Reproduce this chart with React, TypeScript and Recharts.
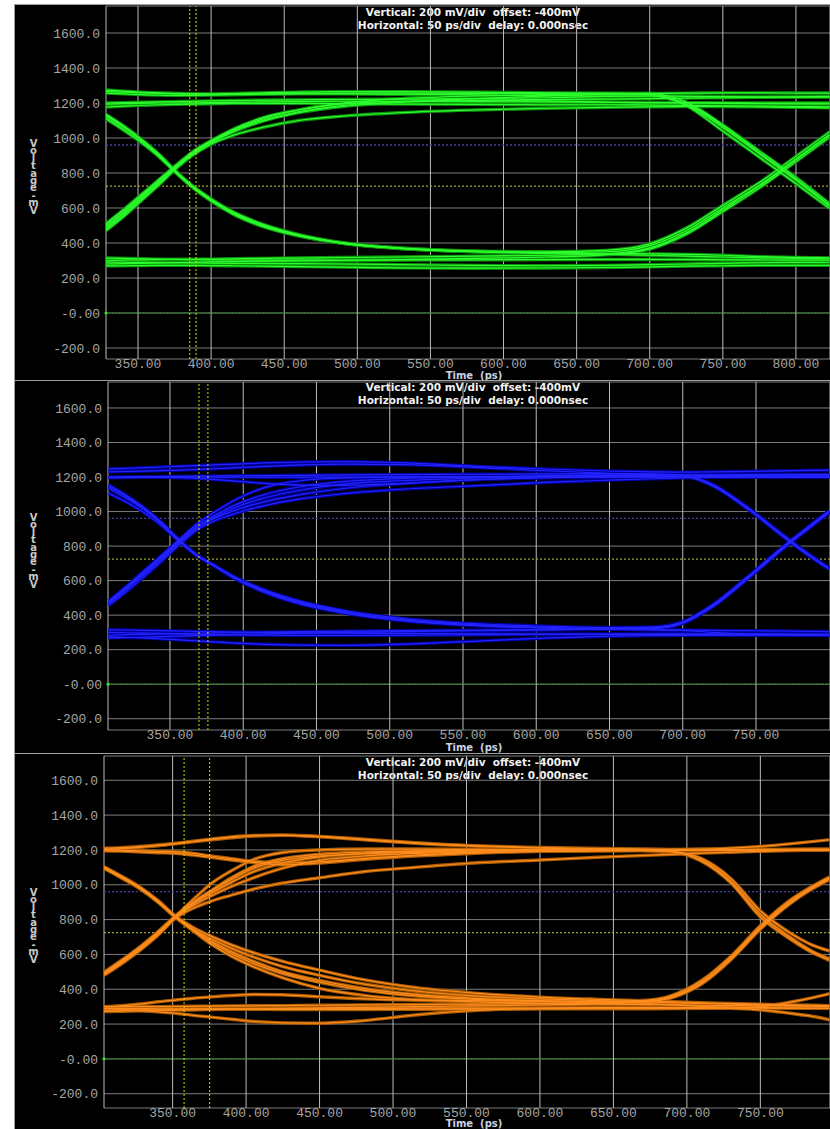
import React from "react";
import { LineChart, Line, XAxis, YAxis, CartesianGrid, ReferenceLine, ReferenceDot } from "recharts";

const voltTicks = [-200, 0, 200, 400, 600, 800, 1000, 1200, 1400, 1600];
const timeTicksWide = [350, 400, 450, 500, 550, 600, 650, 700, 750, 800];
const timeTicks = [350, 400, 450, 500, 550, 600, 650, 700, 750];

// threshold levels (mV) and time cursors (ps)
const upperLevel = 960;
const lowerLevel = 725;
const greenCursors = [385.4, 389.7];
const blueCursors = [369.8, 375.9];
const orangeCursors = [357.8, 375.2];

// capture 1 (green): sample times in ps, one voltage list per trace in mV
const greenTimes = [328, 340, 352, 364, 376, 388, 400, 415, 435, 460, 490, 530, 580, 630, 670, 700, 725, 750, 775, 800, 823];
const greenTraces = [
  [1131, 1065, 990, 905, 805, 720, 650, 575, 505, 445, 400, 370, 350, 340, 335, 330, 325, 320, 315, 312, 310],
  [1110, 1045, 975, 895, 800, 712, 640, 565, 495, 440, 398, 368, 352, 345, 340, 338, 335, 330, 322, 318, 315],
  [1120, 1055, 982, 900, 803, 716, 645, 570, 500, 442, 398, 368, 350, 344, 350, 385, 470, 600, 730, 880, 1020],
  [1135, 1070, 995, 910, 810, 722, 652, 578, 508, 448, 402, 372, 355, 350, 358, 395, 485, 615, 745, 895, 1035],
  [490, 570, 660, 745, 835, 915, 975, 1040, 1100, 1150, 1185, 1205, 1215, 1220, 1222, 1225, 1228, 1230, 1232, 1235, 1238],
  [470, 550, 640, 730, 825, 905, 965, 1015, 1060, 1100, 1125, 1145, 1160, 1170, 1175, 1178, 1180, 1180, 1178, 1175, 1172],
  [510, 590, 675, 760, 845, 925, 985, 1050, 1115, 1160, 1195, 1210, 1215, 1212, 1205, 1200, 1200, 1198, 1196, 1195, 1195],
  [500, 580, 668, 752, 840, 920, 980, 1045, 1108, 1160, 1200, 1225, 1240, 1248, 1252, 1250, 1190, 1060, 910, 760, 610],
  [480, 560, 650, 740, 830, 912, 972, 1035, 1095, 1145, 1180, 1205, 1225, 1240, 1250, 1255, 1205, 1075, 925, 775, 625],
  [1274, 1268, 1262, 1258, 1255, 1253, 1252, 1254, 1258, 1262, 1265, 1265, 1262, 1258, 1256, 1255, 1256, 1258, 1258, 1257, 1257],
  [1257, 1252, 1248, 1245, 1244, 1244, 1245, 1247, 1250, 1252, 1252, 1250, 1246, 1242, 1240, 1240, 1238, 1236, 1235, 1234, 1234],
  [1194, 1196, 1198, 1200, 1200, 1201, 1202, 1204, 1206, 1208, 1210, 1210, 1208, 1206, 1204, 1203, 1202, 1201, 1200, 1200, 1200],
  [1177, 1182, 1187, 1190, 1192, 1194, 1196, 1198, 1198, 1198, 1196, 1194, 1192, 1190, 1190, 1188, 1186, 1184, 1182, 1180, 1178],
  [1265, 1262, 1258, 1255, 1252, 1250, 1250, 1251, 1253, 1255, 1256, 1256, 1255, 1254, 1253, 1248, 1195, 1070, 915, 765, 615],
  [1200, 1202, 1204, 1206, 1208, 1210, 1212, 1214, 1216, 1218, 1220, 1222, 1225, 1230, 1238, 1240, 1185, 1040, 890, 740, 598],
  [314, 312, 310, 308, 306, 305, 304, 303, 302, 302, 302, 303, 304, 305, 306, 306, 305, 304, 303, 302, 302],
  [291, 290, 289, 288, 287, 286, 285, 284, 283, 282, 280, 276, 272, 270, 272, 276, 280, 284, 287, 289, 290],
  [269, 270, 271, 272, 272, 272, 271, 270, 268, 265, 262, 258, 256, 257, 260, 264, 268, 270, 272, 272, 272],
  [300, 302, 304, 305, 306, 307, 308, 310, 312, 314, 317, 320, 325, 330, 338, 372, 458, 590, 725, 875, 1015],
  [280, 282, 284, 286, 288, 290, 292, 294, 296, 298, 300, 305, 312, 320, 332, 365, 450, 580, 715, 865, 1005],
];

// capture 2 (blue)
const blueTimes = [308, 320, 332, 344, 356, 368, 380, 395, 415, 440, 470, 510, 560, 610, 650, 680, 700, 720, 745, 770, 785, 800];
const blueTraces = [
  [1155, 1095, 1025, 940, 840, 752, 690, 615, 540, 472, 418, 372, 343, 328, 320, 316, 314, 312, 310, 308, 306, 305],
  [1135, 1078, 1012, 930, 832, 748, 688, 612, 536, 468, 415, 370, 340, 325, 318, 314, 312, 300, 290, 285, 283, 282],
  [1106, 1055, 995, 920, 828, 745, 684, 608, 530, 462, 410, 366, 338, 325, 320, 322, 352, 445, 615, 795, 895, 995],
  [1145, 1088, 1020, 935, 836, 750, 690, 618, 545, 478, 425, 380, 350, 335, 328, 330, 360, 455, 625, 805, 905, 1005],
  [455, 535, 620, 710, 805, 890, 945, 990, 1035, 1075, 1105, 1130, 1150, 1170, 1182, 1190, 1195, 1200, 1203, 1205, 1206, 1207],
  [470, 555, 640, 730, 820, 905, 965, 1025, 1080, 1125, 1160, 1180, 1195, 1205, 1210, 1212, 1212, 1213, 1214, 1215, 1215, 1215],
  [480, 565, 655, 745, 835, 925, 995, 1070, 1140, 1180, 1195, 1200, 1200, 1200, 1200, 1200, 1200, 1200, 1200, 1200, 1200, 1200],
  [465, 548, 632, 722, 815, 900, 958, 1010, 1058, 1100, 1135, 1162, 1185, 1200, 1208, 1210, 1205, 1150, 1010, 845, 750, 665],
  [475, 560, 648, 738, 828, 915, 975, 1040, 1100, 1145, 1175, 1192, 1202, 1208, 1212, 1212, 1208, 1160, 1020, 855, 760, 672],
  [1247, 1250, 1254, 1258, 1262, 1266, 1270, 1275, 1282, 1287, 1289, 1282, 1262, 1245, 1235, 1230, 1228, 1230, 1233, 1236, 1238, 1240],
  [1230, 1232, 1234, 1237, 1240, 1244, 1248, 1254, 1262, 1270, 1275, 1272, 1255, 1235, 1222, 1215, 1212, 1210, 1208, 1206, 1205, 1205],
  [1198, 1199, 1200, 1200, 1201, 1201, 1200, 1200, 1199, 1199, 1200, 1201, 1202, 1203, 1203, 1202, 1201, 1200, 1200, 1199, 1199, 1198],
  [1195, 1197, 1198, 1198, 1196, 1192, 1186, 1176, 1163, 1153, 1152, 1165, 1185, 1196, 1200, 1202, 1203, 1203, 1204, 1205, 1205, 1205],
  [1200, 1201, 1202, 1203, 1204, 1205, 1206, 1207, 1208, 1210, 1212, 1214, 1216, 1218, 1220, 1218, 1212, 1155, 1015, 848, 752, 668],
  [300, 298, 296, 294, 292, 290, 288, 286, 284, 283, 283, 284, 286, 288, 290, 291, 292, 292, 292, 291, 290, 290],
  [275, 272, 268, 263, 257, 251, 245, 238, 231, 226, 225, 232, 250, 268, 278, 282, 283, 284, 284, 284, 283, 283],
  [315, 314, 312, 310, 308, 306, 304, 302, 300, 298, 296, 294, 292, 290, 289, 288, 287, 286, 285, 284, 283, 282],
  [285, 287, 289, 291, 293, 295, 297, 299, 301, 304, 307, 310, 313, 316, 320, 325, 355, 448, 618, 798, 898, 998],
  [268, 270, 272, 275, 278, 281, 284, 288, 292, 296, 300, 305, 310, 315, 320, 330, 362, 458, 628, 808, 908, 1005],
];

// capture 3 (orange)
const orangeTimes = [303, 315, 328, 340, 352, 364, 376, 390, 405, 425, 450, 480, 515, 555, 600, 640, 670, 690, 710, 730, 750, 770, 785, 797];
const orangeTraces = [
  [1101, 1045, 980, 905, 815, 735, 660, 590, 530, 465, 405, 365, 340, 328, 320, 315, 312, 310, 308, 306, 305, 304, 303, 302],
  [1095, 1040, 975, 900, 812, 745, 690, 635, 585, 530, 480, 430, 390, 362, 345, 335, 328, 322, 318, 314, 310, 306, 304, 302],
  [1105, 1050, 985, 910, 820, 755, 705, 655, 610, 560, 510, 455, 410, 378, 355, 342, 334, 328, 322, 318, 314, 310, 308, 306],
  [1098, 1042, 978, 902, 813, 740, 678, 615, 560, 500, 450, 405, 370, 348, 335, 328, 335, 365, 450, 590, 765, 910, 990, 1045],
  [1102, 1048, 982, 906, 817, 738, 670, 605, 548, 490, 440, 395, 362, 342, 330, 325, 330, 358, 440, 575, 750, 895, 980, 1035],
  [493, 560, 640, 725, 818, 915, 1005, 1080, 1145, 1185, 1200, 1205, 1205, 1203, 1200, 1200, 1200, 1200, 1201, 1202, 1203, 1204, 1205, 1205],
  [485, 550, 630, 715, 812, 880, 935, 990, 1040, 1095, 1140, 1165, 1180, 1188, 1192, 1195, 1196, 1197, 1198, 1199, 1200, 1200, 1200, 1200],
  [478, 545, 625, 710, 808, 865, 905, 940, 975, 1010, 1040, 1075, 1100, 1125, 1142, 1158, 1168, 1175, 1182, 1187, 1192, 1196, 1199, 1200],
  [490, 555, 635, 720, 815, 895, 960, 1030, 1095, 1140, 1165, 1178, 1186, 1192, 1196, 1198, 1200, 1202, 1205, 1210, 1220, 1235, 1248, 1258],
  [488, 552, 632, 718, 814, 890, 950, 1015, 1075, 1125, 1160, 1180, 1192, 1198, 1200, 1200, 1198, 1190, 1140, 1020, 830, 700, 620, 575],
  [495, 565, 645, 730, 822, 900, 965, 1040, 1105, 1150, 1175, 1188, 1195, 1198, 1200, 1200, 1198, 1192, 1150, 1035, 850, 725, 655, 620],
  [1210, 1213, 1220, 1228, 1238, 1250, 1262, 1275, 1283, 1285, 1275, 1258, 1238, 1222, 1210, 1205, 1202, 1200, 1200, 1200, 1200, 1200, 1200, 1200],
  [1205, 1208, 1215, 1224, 1235, 1247, 1258, 1270, 1280, 1284, 1278, 1262, 1242, 1225, 1214, 1208, 1205, 1203, 1201, 1200, 1200, 1200, 1200, 1200],
  [1195, 1193, 1188, 1184, 1180, 1170, 1158, 1142, 1128, 1114, 1125, 1145, 1165, 1180, 1192, 1196, 1198, 1199, 1200, 1200, 1201, 1202, 1202, 1202],
  [1200, 1198, 1195, 1192, 1190, 1180, 1165, 1150, 1135, 1125, 1132, 1150, 1170, 1185, 1193, 1196, 1196, 1188, 1135, 1010, 815, 690, 612, 566],
  [300, 305, 315, 328, 338, 348, 356, 364, 370, 368, 357, 345, 338, 335, 332, 328, 320, 310, 302, 298, 295, 292, 290, 290],
  [290, 290, 289, 288, 288, 287, 287, 286, 285, 284, 284, 284, 285, 286, 287, 288, 288, 289, 290, 292, 300, 325, 350, 375],
  [290, 285, 278, 270, 262, 250, 240, 228, 215, 207, 205, 220, 252, 278, 290, 294, 295, 295, 294, 290, 282, 262, 245, 225],
  [280, 280, 281, 282, 283, 284, 285, 286, 287, 288, 289, 290, 291, 292, 292, 292, 292, 292, 292, 292, 292, 292, 292, 292],
  [300, 300, 300, 300, 301, 302, 303, 304, 305, 306, 308, 310, 312, 315, 318, 322, 330, 355, 435, 580, 755, 900, 982, 1040],
  [272, 274, 276, 278, 280, 282, 284, 286, 288, 290, 293, 296, 300, 305, 310, 316, 326, 352, 430, 570, 745, 890, 975, 1030],
];

const titleLines = ["Vertical: 200 mV/div  offset: -400mV", "Horizontal: 50 ps/div  delay: 0.000nsec"];
const xLabel = "Time  (ps)";
const yLabel = "Voltage-mV";

const fmtVolt = (v: number) => (v === 0 ? "-0.00" : v.toFixed(1));
const fmtTime = (v: number) => v.toFixed(2);

const tickStyle = { fill: "#a6a6a6", fontFamily: "'Liberation Mono', monospace", fontSize: 13 };
const labelFont = "'DejaVu Sans', sans-serif";

type PanelCfg = {
  top: number;
  height: number;
  plotTop: number;
  plotBottom: number;
  plotLeft: number;
  times: number[];
  traces: number[][];
  xDomain: [number, number];
  yDomain: [number, number];
  xTicks: number[];
  cursors: number[];
  bright: string;
  dim: string;
  titleY: number;
  timeY: number;
  voltY: number;
};

function EyePanel({ cfg }: { cfg: PanelCfg }) {
  const rows = cfg.times.map((t, i) => {
    const r: Record<string, number> = { t };
    cfg.traces.forEach((tr, k) => {
      r["s" + k] = tr[i];
    });
    return r;
  });
  const axisH = cfg.height - (cfg.plotBottom - cfg.top);

  return (
    <div style={{ position: "absolute", left: 0, top: cfg.top, width: 830, height: cfg.height, overflow: "hidden" }}>
      <div
        style={{
          position: "absolute",
          left: 14,
          top: 0,
          width: 816,
          height: cfg.height,
          background: "#000",
          borderTop: "1px solid #a0a0a0",
          borderLeft: "1px solid #a0a0a0",
          boxSizing: "border-box",
        }}
      />
      {titleLines.map((s, i) => (
        <div
          key={s}
          style={{
            position: "absolute",
            left: 273,
            width: 400,
            top: cfg.titleY + i * 12.5 - 6,
            lineHeight: "12px",
            textAlign: "center",
            color: "#f2f2f2",
            fontFamily: labelFont,
            fontWeight: "bold",
            fontSize: 10.5,
            whiteSpace: "pre",
          }}
        >
          {s}
        </div>
      ))}
      <div style={{ position: "absolute", left: 0, top: 0 }}>
        <LineChart width={830} height={cfg.height} data={rows} margin={{ top: cfg.plotTop - cfg.top, right: 0, left: 0, bottom: 0 }}>
          <CartesianGrid vertical={false} stroke="#7c7c7c" strokeWidth={1} />
          <CartesianGrid horizontal={false} stroke="#bcbcbc" strokeWidth={1} />
          <XAxis
            type="number"
            dataKey="t"
            domain={cfg.xDomain}
            ticks={cfg.xTicks}
            allowDataOverflow
            interval={0}
            height={axisH}
            axisLine={false}
            tickLine={false}
            tickSize={0}
            tickMargin={0}
            tick={tickStyle}
            tickFormatter={fmtTime}
          />
          <YAxis
            type="number"
            domain={cfg.yDomain}
            ticks={voltTicks}
            allowDataOverflow
            interval={0}
            width={cfg.plotLeft}
            axisLine={false}
            tickLine={false}
            tickSize={0}
            tickMargin={6}
            tick={tickStyle}
            tickFormatter={fmtVolt}
          />
          <ReferenceLine y={upperLevel} stroke="#40409a" strokeDasharray="2 2" strokeWidth={1.3} />
          <ReferenceLine y={lowerLevel} stroke="#a2a230" strokeDasharray="2 2" strokeWidth={1.3} />
          <ReferenceLine y={0} stroke="#1f9a1f" strokeDasharray="2 1" strokeWidth={1} />
          <ReferenceDot x={cfg.xDomain[0]} y={0} r={1.6} fill="#30e030" stroke="none" ifOverflow="visible" />
          {cfg.traces.map((_, k) => (
            <Line
              key={"d" + k}
              dataKey={"s" + k}
              type="monotone"
              stroke={cfg.dim}
              strokeWidth={3.4}
              dot={false}
              activeDot={false}
              legendType="none"
              isAnimationActive={false}
            />
          ))}
          {cfg.traces.map((_, k) => (
            <Line
              key={"b" + k}
              dataKey={"s" + k}
              type="monotone"
              stroke={cfg.bright}
              strokeWidth={1.2}
              dot={false}
              activeDot={false}
              legendType="none"
              isAnimationActive={false}
            />
          ))}
          {cfg.cursors.map((c) => (
            <ReferenceLine key={c} x={c} stroke="#dada00" strokeDasharray="2 2" strokeWidth={1} />
          ))}
        </LineChart>
      </div>
      <div
        style={{
          position: "absolute",
          left: 424,
          width: 100,
          top: cfg.timeY - 5,
          lineHeight: "10px",
          textAlign: "center",
          color: "#c9d2e2",
          fontFamily: labelFont,
          fontWeight: "bold",
          fontSize: 10,
          whiteSpace: "pre",
        }}
      >
        {xLabel}
      </div>
      <div
        style={{
          position: "absolute",
          left: 27,
          top: cfg.voltY,
          writingMode: "vertical-rl",
          textOrientation: "upright",
          letterSpacing: "-3.6px",
          lineHeight: "12px",
          color: "#c8c8c8",
          fontFamily: labelFont,
          fontWeight: "bold",
          fontSize: 10,
        }}
      >
        {yLabel}
      </div>
    </div>
  );
}

export default function App() {
  const panels: PanelCfg[] = [
    {
      top: 4,
      height: 376,
      plotTop: 6,
      plotBottom: 359,
      plotLeft: 106,
      times: greenTimes,
      traces: greenTraces,
      xDomain: [328.1, 823.3],
      yDomain: [-262.9, 1754.3],
      xTicks: timeTicksWide,
      cursors: greenCursors,
      bright: "#2eff2e",
      dim: "#0b930b",
      titleY: 8,
      timeY: 371.5,
      voltY: 134,
    },
    {
      top: 380,
      height: 373,
      plotTop: 382,
      plotBottom: 730,
      plotLeft: 108,
      times: blueTimes,
      traces: blueTraces,
      xDomain: [307.7, 800.5],
      yDomain: [-265.4, 1750.5],
      xTicks: timeTicks,
      cursors: blueCursors,
      bright: "#2424ff",
      dim: "#0000a0",
      titleY: 7,
      timeY: 367.5,
      voltY: 132,
    },
    {
      top: 753,
      height: 376,
      plotTop: 756,
      plotBottom: 1108,
      plotLeft: 104,
      times: orangeTimes,
      traces: orangeTraces,
      xDomain: [303.3, 797.4],
      yDomain: [-282, 1739.4],
      xTicks: timeTicks,
      cursors: orangeCursors,
      bright: "#ff8c1e",
      dim: "#a85a00",
      titleY: 9,
      timeY: 370.5,
      voltY: 134,
    },
  ];

  return (
    <div style={{ position: "absolute", left: 0, top: 0, width: 830, height: 1129, background: "#fff", overflow: "hidden" }}>
      {panels.map((p) => (
        <EyePanel key={p.top} cfg={p} />
      ))}
    </div>
  );
}
